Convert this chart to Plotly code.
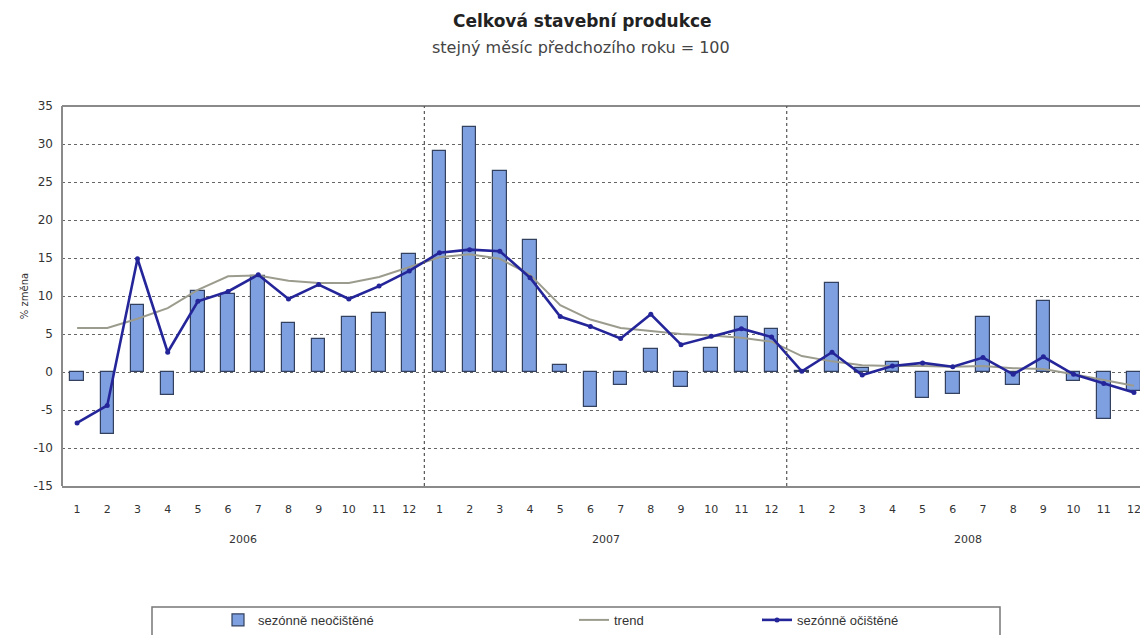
import plotly.graph_objects as go

# Months 2006-2008 and year labels
months = [str(m) for m in range(1, 13)] * 3
years = ["2006", "2007", "2008"]
y_ticks = list(range(-15, 40, 5))

# Construction output, same month of previous year = 100 (% change)
neocistene = [-1.2, -8.2, 8.8, -3.0, 10.6, 10.2, 12.6, 6.5, 4.3, 7.3, 7.8, 15.5,
              29.1, 32.3, 26.5, 17.4, 0.9, -4.6, -1.7, 3.0, -2.0, 3.2, 7.2, 5.6,
              0.1, 11.7, 0.5, 1.3, -3.4, -2.9, 7.3, -1.7, 9.3, -1.2, -6.2, -2.5]
trend = [5.8, 5.8, 7.0, 8.4, 10.8, 12.6, 12.7, 12.0, 11.7, 11.7, 12.5, 13.8,
         15.1, 15.5, 14.9, 12.8, 8.8, 6.9, 5.8, 5.4, 5.0, 4.8, 4.5, 4.0,
         2.1, 1.4, 0.9, 0.8, 0.8, 0.7, 0.8, 0.5, 0.4, -0.3, -1.0, -1.8]
ocistene = [-6.7, -4.4, 14.9, 2.6, 9.3, 10.6, 12.8, 9.6, 11.5, 9.6, 11.3, 13.3,
            15.7, 16.1, 15.9, 12.4, 7.3, 6.0, 4.4, 7.6, 3.6, 4.7, 5.7, 4.6,
            0.1, 2.6, -0.4, 0.8, 1.2, 0.7, 1.9, -0.3, 2.0, -0.3, -1.5, -2.7]

x = list(range(len(months)))
FONT = "Liberation Sans, Arial, sans-serif"
WIDE = "DejaVu Sans, Verdana, sans-serif"

# plot area in pixels: left 62, right 1140, top 106, bottom 489
PL, PW, PB, PH = 62, 1078, 489, 383


def px_x(p):
    return (p - PL) / PW


def px_y(p):
    return (PB - p) / PH


fig = go.Figure()
fig.add_trace(go.Bar(
    x=x, y=neocistene, width=0.45, name="sezónně neočištěné",
    marker=dict(color="#7e9fe0", line=dict(color="#33415e", width=1.2)),
    legend="legend", showlegend=True,
))
fig.add_trace(go.Scatter(
    x=x, y=trend, mode="lines", name="trend",
    line=dict(color="#9c9c8e", width=2),
    legend="legend2", showlegend=True,
))
fig.add_trace(go.Scatter(
    x=x, y=ocistene, mode="lines+markers", name="sezónně očištěné",
    line=dict(color="#25259a", width=2.6),
    marker=dict(color="#25259a", size=5),
    legend="legend3", showlegend=True,
))

# Plot frame: top and left borders, year separators
shapes = [
    dict(type="line", xref="paper", yref="paper", x0=0, x1=1, y0=1, y1=1,
         line=dict(color="#8a8a8a", width=2)),
    dict(type="line", xref="paper", yref="paper", x0=0, x1=0, y0=0, y1=1,
         line=dict(color="#8a8a8a", width=2)),
]
for b in (11.5, 23.5):
    shapes.append(dict(type="line", xref="x", yref="paper", x0=b, x1=b, y0=0, y1=1,
                       line=dict(color="#555555", width=1.2, dash="dot")))
# Legend box
shapes.append(dict(type="rect", xref="paper", yref="paper",
                   x0=px_x(152), x1=px_x(1000), y0=px_y(640), y1=px_y(611),
                   line=dict(color="#777777", width=1.5), fillcolor="rgba(0,0,0,0)"))

annotations = [
    dict(text="<b>Celková stavební produkce</b>", xref="paper", yref="paper",
         x=px_x(582), y=px_y(20), xanchor="center", yanchor="middle", showarrow=False,
         font=dict(family=WIDE, size=17, color="#222222")),
    dict(text="stejný měsíc předchozího roku = 100", xref="paper", yref="paper",
         x=px_x(581), y=px_y(47), xanchor="center", yanchor="middle", showarrow=False,
         font=dict(family=WIDE, size=16, color="#444444")),
]
for i, yr in enumerate(years):
    annotations.append(dict(text=yr, xref="x", yref="paper", x=i * 12 + 5.5,
                            y=px_y(543), xanchor="center", yanchor="middle",
                            showarrow=False,
                            font=dict(family=WIDE, size=11, color="#333333")))

leg_common = dict(orientation="h", bgcolor="rgba(0,0,0,0)", borderwidth=0,
                  font=dict(family=FONT, size=13, color="#333333"),
                  xanchor="left", yanchor="middle", y=px_y(624))

fig.update_layout(
    width=1140, height=635,
    margin=dict(l=PL, r=0, t=106, b=635 - PB),
    paper_bgcolor="white", plot_bgcolor="white",
    bargap=0, showlegend=True,
    shapes=shapes, annotations=annotations,
    legend=dict(x=px_x(218), **leg_common),
    legend2=dict(x=px_x(574), **leg_common),
    legend3=dict(x=px_x(757), **leg_common),
    xaxis=dict(
        range=[-0.5, 35.2], tickmode="array", tickvals=x, ticktext=months,
        showgrid=False, zeroline=False, showline=True, linecolor="#8a8a8a",
        linewidth=2, ticks="", ticklabelstandoff=12, ticklabeloverflow="allow",
        tickfont=dict(family=WIDE, size=11, color="#333333"),
        fixedrange=True,
    ),
    yaxis=dict(
        range=[-15, 35], tickmode="array", tickvals=y_ticks,
        ticktext=[str(v) for v in y_ticks],
        showgrid=True, gridcolor="#666666", griddash="dot", gridwidth=1.2,
        zeroline=False, showline=False, ticks="", ticklabelstandoff=8,
        tickfont=dict(family=WIDE, size=12, color="#333333"),
        title=dict(text="% změna", font=dict(family=WIDE, size=10, color="#333333"),
                   standoff=2),
    ),
)

fig.write_html("out.html")
